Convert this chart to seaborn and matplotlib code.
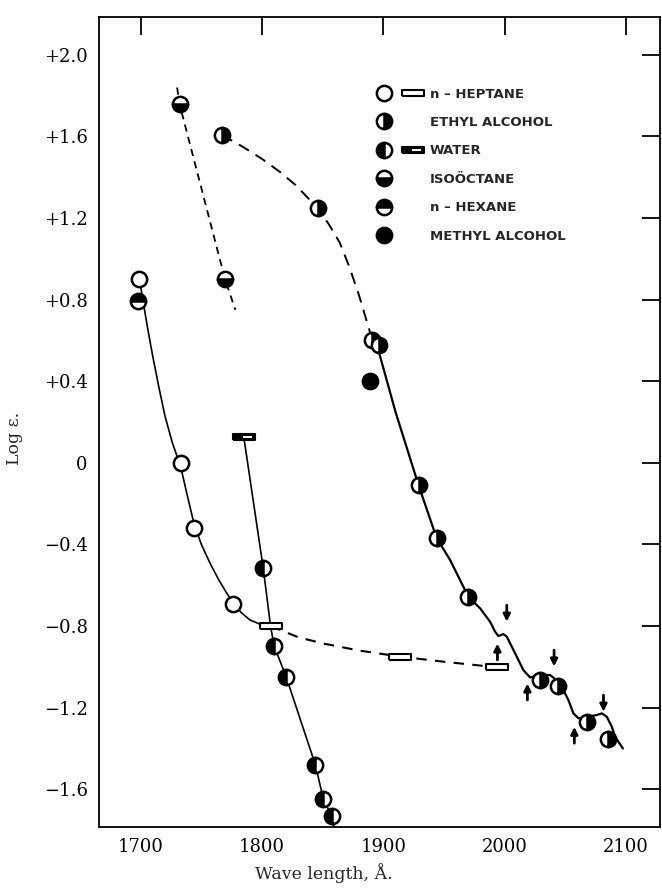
import matplotlib
matplotlib.use("Agg")
import matplotlib.pyplot as plt
import seaborn as sns
from matplotlib.lines import Line2D
from matplotlib.legend_handler import HandlerTuple

# ---- data (wave length in A, log epsilon) ----
# n-heptane
heptane_wl = [1699, 1733, 1744, 1776]
heptane_log = [0.90, 0.00, -0.32, -0.69]
heptane_rect_wl = [1807, 1914, 1994]
heptane_rect_log = [-0.80, -0.95, -1.00]
heptane_curve_wl = [1699, 1702, 1706, 1710, 1715, 1720, 1726, 1733, 1738, 1744, 1750, 1757,
                    1764, 1770, 1776, 1783, 1790, 1798, 1807]
heptane_curve_log = [0.90, 0.79, 0.65, 0.52, 0.37, 0.23, 0.10, -0.02, -0.15, -0.30, -0.40, -0.49,
                     -0.57, -0.63, -0.685, -0.735, -0.77, -0.79, -0.80]
heptane_dash_wl = [1807, 1830, 1850, 1880, 1905, 1914, 1950, 1982, 1994]
heptane_dash_log = [-0.80, -0.855, -0.885, -0.92, -0.942, -0.95, -0.975, -0.995, -1.00]

# ethyl alcohol
ethyl_wl = [1767, 1846, 1891, 1896, 1929, 1944, 1970, 2029, 2044, 2068, 2085]
ethyl_log = [1.607, 1.248, 0.60, 0.58, -0.11, -0.37, -0.656, -1.065, -1.094, -1.269, -1.355]
ethyl_dash_wl = [1767, 1784, 1800, 1815, 1828, 1840, 1846, 1855, 1864, 1872, 1880, 1886, 1891]
ethyl_dash_log = [1.607, 1.55, 1.49, 1.425, 1.36, 1.285, 1.248, 1.17, 1.08, 0.96, 0.82, 0.70, 0.60]
ethyl_curve_wl = [1891, 1896, 1910, 1929, 1944, 1955, 1970, 1979.7, 1988, 1992.1, 1994.8,
                  1998.9, 2001.7, 2008.6, 2015.4, 2020.9, 2029.2, 2037.4, 2044.3, 2048.4,
                  2052.5, 2056.6, 2060.8, 2067.7, 2075.9, 2080.1, 2084.2, 2088.3, 2091, 2097.4]
ethyl_curve_log = [0.60, 0.55, 0.25, -0.11, -0.37, -0.476, -0.656, -0.713, -0.779, -0.828, -0.849,
                   -0.839, -0.852, -0.934, -1.016, -1.052, -1.040, -1.040, -1.073, -1.114,
                   -1.163, -1.228, -1.252, -1.245, -1.236, -1.228, -1.245, -1.294, -1.343, -1.40]

# water
water_wl = [1801, 1810, 1820, 1844, 1850.5, 1857.4]
water_log = [-0.517, -0.898, -1.051, -1.481, -1.648, -1.73]
water_rect_wl = [1785]
water_rect_log = [0.125]
water_curve_wl = [1785, 1801, 1807, 1810, 1820, 1844, 1850.5, 1857.4, 1860]
water_curve_log = [0.125, -0.517, -0.80, -0.898, -1.051, -1.481, -1.648, -1.73, -1.80]

# isooctane
iso_wl = [1732, 1769.5]
iso_log = [1.759, 0.90]
iso_dash_wl = [1730, 1732, 1769.5, 1778]
iso_dash_log = [1.84, 1.759, 0.90, 0.75]

# n-hexane
hexane_wl = [1698]
hexane_log = [0.793]

# methyl alcohol
methyl_wl = [1889]
methyl_log = [0.40]

# arrows on the ethyl alcohol curve
arrow_down_wl = [2001.7, 2040.7, 2081.4]
arrow_down_log = [-0.738, -0.958, -1.179]
arrow_up_wl = [1994, 2018.7, 2057.4]
arrow_up_log = [-0.926, -1.122, -1.334]

y_ticks = [2.0, 1.6, 1.2, 0.8, 0.4, 0.0, -0.4, -0.8, -1.2, -1.6]
y_tick_labels = ["+2.0", "+1.6", "+1.2", "+0.8", "+0.4", "0",
                 "\u22120.4", "\u22120.8", "\u22121.2", "\u22121.6"]
x_ticks = [1700, 1800, 1900, 2000, 2100]

sns.set_style("white")
plt.rcParams['font.family'] = ['DejaVu Serif']

fig = plt.figure(figsize=(6.62, 8.88), dpi=100)
ax = fig.add_axes([0.1495, 0.0687, 0.8475, 0.912])

lw = 1.2
# curves
sns.lineplot(x=heptane_curve_wl, y=heptane_curve_log, sort=False, estimator=None, color="black", lw=lw, ax=ax)
sns.lineplot(x=heptane_dash_wl, y=heptane_dash_log, sort=False, estimator=None, color="black", lw=1.5,
             linestyle=(0, (5, 4)), ax=ax)
sns.lineplot(x=water_curve_wl, y=water_curve_log, sort=False, estimator=None, color="black", lw=lw, ax=ax)
sns.lineplot(x=iso_dash_wl, y=iso_dash_log, sort=False, estimator=None, color="black", lw=1.3,
             linestyle=(0, (4, 3)), ax=ax)
sns.lineplot(x=ethyl_dash_wl, y=ethyl_dash_log, sort=False, estimator=None, color="black", lw=1.4,
             linestyle=(0, (6, 4)), ax=ax)
sns.lineplot(x=ethyl_curve_wl, y=ethyl_curve_log, sort=False, estimator=None, color="black", lw=1.6, ax=ax)

ms = 11
mew = 1.8
rect_marker = [(-1, -0.28), (1, -0.28), (1, 0.28), (-1, 0.28), (-1, -0.28)]
slit_marker = [(-0.15, -0.12), (1, -0.12), (1, 0.12), (-0.15, 0.12), (-0.15, -0.12)]


def pts(x, y, **kw):
    style = dict(marker="o", linestyle="", markersize=ms, markeredgewidth=mew,
                 markeredgecolor="black", markerfacecolor="black", markerfacecoloralt="white",
                 color="black", zorder=5)
    style.update(kw)
    sns.lineplot(x=x, y=y, sort=False, estimator=None, ax=ax, **style)


pts(heptane_wl, heptane_log, markerfacecolor="white")
pts(heptane_rect_wl, heptane_rect_log, marker=rect_marker, markersize=16, markeredgewidth=1.5,
    markerfacecolor="white")
pts(water_rect_wl, water_rect_log, marker=rect_marker, markersize=16, markeredgewidth=1.5,
    markerfacecolor="black")
pts(water_rect_wl, water_rect_log, marker=slit_marker, markersize=12, markeredgewidth=0,
    markerfacecolor="white", zorder=6)
pts(ethyl_wl, ethyl_log, fillstyle="right")
pts(water_wl, water_log, fillstyle="left")
pts(iso_wl, iso_log, fillstyle="bottom")
pts(hexane_wl, hexane_log, fillstyle="top")
pts(methyl_wl, methyl_log)

for x, y in zip(arrow_down_wl, arrow_down_log):
    ax.annotate("", xy=(x, y - 0.04), xytext=(x, y + 0.04),
                arrowprops=dict(arrowstyle="-|>", color="black", lw=2.0, mutation_scale=10,
                                shrinkA=0, shrinkB=0))
for x, y in zip(arrow_up_wl, arrow_up_log):
    ax.annotate("", xy=(x, y + 0.04), xytext=(x, y - 0.04),
                arrowprops=dict(arrowstyle="-|>", color="black", lw=2.0, mutation_scale=10,
                                shrinkA=0, shrinkB=0))

ax.set_xlim(1665.6, 2128)
ax.set_ylim(-1.785, 2.185)
ax.set_xticks(x_ticks)
ax.set_xticklabels([str(t) for t in x_ticks])
ax.set_yticks(y_ticks)
ax.set_yticklabels(y_tick_labels)
ax.tick_params(direction="in", length=13, width=1.3, top=True, right=True,
               labelsize=13, pad=8, colors="black")
for s in ax.spines.values():
    s.set_color("black")
    s.set_linewidth(1.3)

ax.set_xlabel("Wave length, \u00c5.", fontsize=12.5)
ax.xaxis.set_label_coords(0.40, -0.045)
ax.set_ylabel("Log \u03b5.", fontsize=12.5)
ax.yaxis.set_label_coords(-0.135, 0.48)


# legend
def h(fill, fs="full"):
    return Line2D([], [], marker="o", linestyle="", markersize=ms, markeredgewidth=mew,
                  markeredgecolor="black", markerfacecolor=fill, markerfacecoloralt="white",
                  fillstyle=fs)


rect_h = Line2D([], [], marker=rect_marker, linestyle="", markersize=16, markeredgewidth=1.5,
                markeredgecolor="black", markerfacecolor="white")
rect_dark = (Line2D([], [], marker=rect_marker, linestyle="", markersize=16, markeredgewidth=1.5,
                    markeredgecolor="black", markerfacecolor="black"),
             Line2D([], [], marker=slit_marker, linestyle="", markersize=12, markeredgewidth=0,
                    markerfacecolor="white"))
blank = Line2D([], [], linestyle="", marker="")

handles = [(h("white"), rect_h), (h("black", "right"), blank), (h("black", "left"), rect_dark),
           (h("black", "bottom"), blank), (h("black", "top"), blank), (h("black"), blank)]
labels = ["n \u2013 HEPTANE", "ETHYL ALCOHOL", "WATER", "ISO\u00d6CTANE", "n \u2013 HEXANE",
          "METHYL ALCOHOL"]
ax.legend(handles, labels, loc="upper left", bbox_to_anchor=(0.492, 0.913), frameon=False,
          handler_map={tuple: HandlerTuple(ndivide=None, pad=0.83),
                       rect_dark: HandlerTuple(ndivide=1, pad=0)},
          handlelength=3.56, handletextpad=0.6, labelspacing=1.17, borderpad=0, borderaxespad=0,
          prop=dict(family="DejaVu Sans", weight="bold", size=9.5))

fig.savefig("out.png", dpi=100)
